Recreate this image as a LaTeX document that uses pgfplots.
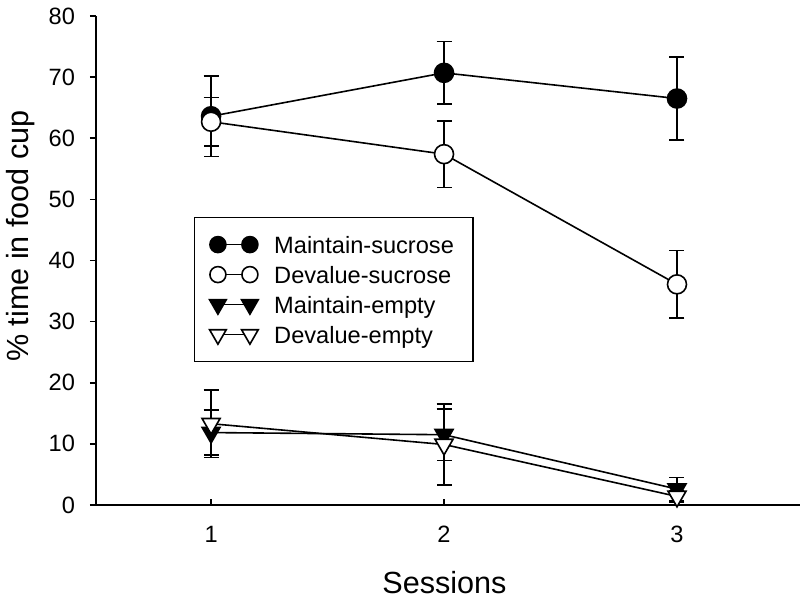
\documentclass[border=0pt]{standalone}
\usepackage{pgfplots}
\pgfplotsset{compat=1.18}
\usepackage{fontspec}
\setmainfont{Liberation Sans}

\begin{document}
\begin{tikzpicture}
\begin{axis}[
  scale only axis, width=352pt, height=244.5pt,
  xmin=0.506, xmax=3.528, ymin=0, ymax=80,
  axis x line=bottom, axis y line=left,
  axis line style={-, line width=0.8pt, black},
  xtick={1,2,3}, ytick={0,10,...,80},
  tick align=inside,
  major tick length=3pt,
  xtick style={line width=0.8pt, black},
  ytick style={line width=0.8pt, black, xshift=-3pt},
  /pgf/number format/assume math mode=true,
  xticklabel style={font=\fontsize{11.8}{14}\selectfont, anchor=base, inner sep=0pt, yshift=-19pt},
  yticklabel style={font=\fontsize{11.8}{14}\selectfont, anchor=east, inner sep=0pt, xshift=-10.3pt},
  xlabel={Sessions},
  ylabel={\% time in food cup},
  label style={font=\fontsize{15.3}{17}\selectfont},
  xlabel style={at={(axis description cs:0.495,-0.18)}, anchor=base},
  ylabel style={at={(axis description cs:-0.0952,0.55)}, anchor=base},
  legend style={at={(axis description cs:0.1392,0.589)}, anchor=north west,
    draw=black, line width=0.6pt, fill=white,
    inner xsep=7.5pt, inner ysep=8pt, row sep=4pt, column sep=6pt,
    font=\fontsize{11.8}{14}\selectfont,
    nodes={inner ysep=0pt, inner xsep=2pt, text height=10pt, text depth=1pt},
    cells={anchor=west}},
  legend image code/.code={\draw[#1, mark repeat=2, mark phase=1] plot coordinates {(0pt,0pt) (8pt,0pt) (16pt,0pt)};},
  clip=false,
]
% Maintain-sucrose
\addplot[forget plot, black, line width=0.8pt, mark=*, mark size=4.75pt, mark options={solid, fill=black},
  error bars/.cd, y dir=both, y explicit, error bar style={line width=0.8pt, black},
  error mark options={rotate=90, black, mark size=3.75pt, line width=0.8pt}]
  coordinates {(1,63.6) +- (0,6.6) (2,70.7) +- (0,5.1) (3,66.5) +- (0,6.8)};
% Devalue-sucrose
\addplot[forget plot, black, line width=0.8pt, mark=*, mark size=4.75pt, mark options={solid, fill=white},
  error bars/.cd, y dir=both, y explicit, error bar style={line width=0.8pt, black},
  error mark options={rotate=90, black, mark size=3.75pt, line width=0.8pt}]
  coordinates {(1,62.7) +- (0,3.95) (2,57.4) +- (0,5.45) (3,36.1) +- (0,5.55)};
% Maintain-empty
\addplot[forget plot, black, line width=0.8pt, mark=triangle*, mark size=5.2pt, mark options={solid, fill=black, rotate=180},
  error bars/.cd, y dir=both, y explicit, error bar style={line width=0.8pt, black},
  error mark options={rotate=90, black, mark size=3.75pt, line width=0.8pt}]
  coordinates {(1,11.85) +- (0,3.7) (2,11.5) +- (0,4.2) (3,2.6) +- (0,1.9)};
% Devalue-empty
\addplot[forget plot, black, line width=0.8pt, mark=triangle*, mark size=5.2pt, mark options={solid, fill=white, rotate=180},
  error bars/.cd, y dir=both, y explicit, error bar style={line width=0.8pt, black},
  error mark options={rotate=90, black, mark size=3.75pt, line width=0.8pt}]
  coordinates {(1,13.3) +- (0,5.5) (2,9.9) +- (0,6.6) (3,1.4) +- (0,1.0)};

\addlegendimage{black, line width=0.8pt, mark=*, mark size=4pt, mark options={solid, fill=black}}
\addlegendentry{Maintain-sucrose}
\addlegendimage{black, line width=0.8pt, mark=*, mark size=4pt, mark options={solid, fill=white}}
\addlegendentry{Devalue-sucrose}
\addlegendimage{black, line width=0.8pt, mark=triangle*, mark size=4.8pt, mark options={solid, fill=black, rotate=180}}
\addlegendentry{Maintain-empty}
\addlegendimage{black, line width=0.8pt, mark=triangle*, mark size=4.8pt, mark options={solid, fill=white, rotate=180}}
\addlegendentry{Devalue-empty}
\end{axis}
\pgfresetboundingbox
\useasboundingbox (-48pt,-47.5pt) rectangle (352pt,252.5pt);
\end{tikzpicture}
\end{document}
